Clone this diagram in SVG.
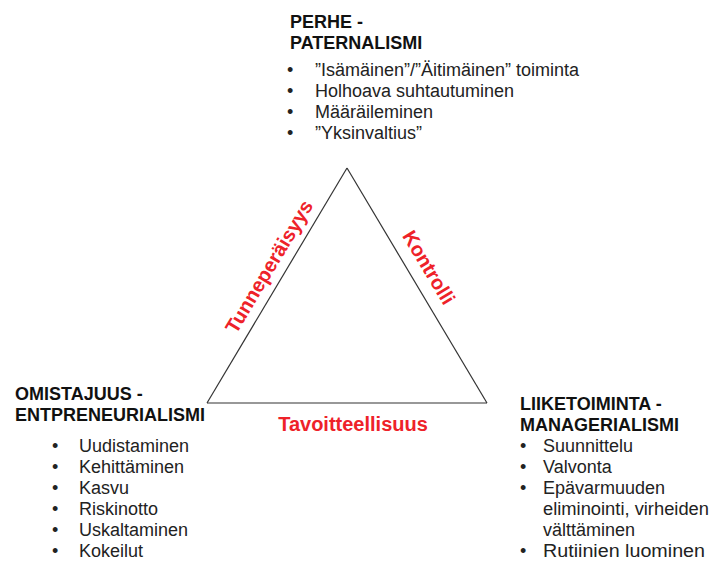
<svg xmlns="http://www.w3.org/2000/svg" width="715" height="563" viewBox="0 0 715 563">
  <style>
    .head { font-family: "Liberation Sans", Arial, sans-serif; font-size: 18px; font-weight: bold; fill: #111; }
    .item { font-family: "Liberation Sans", Arial, sans-serif; font-size: 18px; fill: #222; }
    .axis { font-family: "Liberation Sans", Arial, sans-serif; font-size: 20px; font-weight: bold; fill: #ee2229; }
    .edge { fill: none; stroke: #333; stroke-width: 1.2; }
  </style>
  <rect width="715" height="563" fill="#fff"/>

  <!-- triangle sides -->
  <g id="connectors">
    <line class="edge" x1="207" y1="403" x2="347" y2="168"/>
    <line class="edge" x1="347" y1="168" x2="487" y2="403"/>
    <line class="edge" x1="207" y1="403" x2="487" y2="403"/>
  </g>

  <!-- side labels -->
  <g id="labels">
    <text class="axis" text-anchor="middle" transform="translate(275,270) rotate(-59)">Tunneperäisyys</text>
    <text class="axis" text-anchor="middle" transform="translate(423,271) rotate(59)">Kontrolli</text>
    <text class="axis" text-anchor="middle" x="353" y="431">Tavoitteellisuus</text>
  </g>

  <!-- top corner -->
  <g id="perhe">
    <text class="head" x="290" y="28">PERHE -</text>
    <text class="head" x="290" y="49">PATERNALISMI</text>
    <g class="item">
      <text x="287" y="76">•</text><text x="315" y="76">”Isämäinen”/”Äitimäinen” toiminta</text>
      <text x="287" y="97">•</text><text x="315" y="97">Holhoava suhtautuminen</text>
      <text x="287" y="118">•</text><text x="315" y="118">Määräileminen</text>
      <text x="287" y="139">•</text><text x="315" y="139">”Yksinvaltius”</text>
    </g>
  </g>

  <!-- left corner -->
  <g id="omistajuus">
    <text class="head" x="15" y="400">OMISTAJUUS -</text>
    <text class="head" x="15" y="421">ENTPRENEURIALISMI</text>
    <g class="item">
      <text x="52" y="452">•</text><text x="79" y="452">Uudistaminen</text>
      <text x="52" y="473">•</text><text x="79" y="473">Kehittäminen</text>
      <text x="52" y="494">•</text><text x="79" y="494">Kasvu</text>
      <text x="52" y="515">•</text><text x="79" y="515">Riskinotto</text>
      <text x="52" y="536">•</text><text x="79" y="536">Uskaltaminen</text>
      <text x="52" y="557">•</text><text x="79" y="557">Kokeilut</text>
    </g>
  </g>

  <!-- right corner -->
  <g id="liiketoiminta">
    <text class="head" x="520" y="410">LIIKETOIMINTA -</text>
    <text class="head" x="520" y="431">MANAGERIALISMI</text>
    <g class="item">
      <text x="520" y="452">•</text><text x="543" y="452">Suunnittelu</text>
      <text x="520" y="473">•</text><text x="543" y="473">Valvonta</text>
      <text x="520" y="494">•</text><text x="543" y="494">Epävarmuuden</text>
      <text x="543" y="515" textLength="166" lengthAdjust="spacingAndGlyphs">eliminointi, virheiden</text>
      <text x="543" y="536">välttäminen</text>
      <text x="520" y="557">•</text><text x="543" y="557" textLength="162" lengthAdjust="spacingAndGlyphs">Rutiinien luominen</text>
    </g>
  </g>
</svg>
